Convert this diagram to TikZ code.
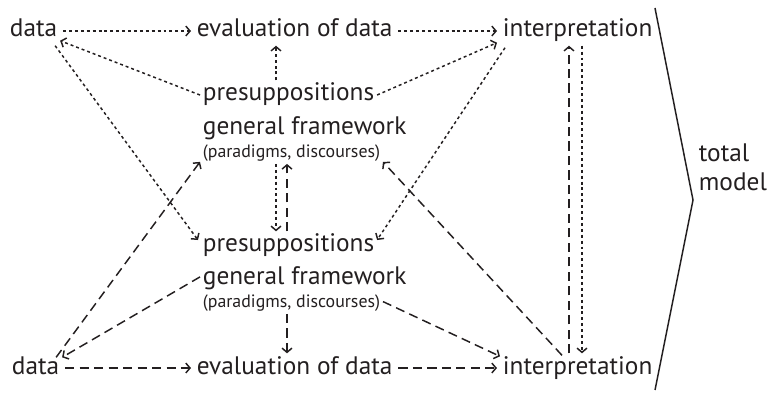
\documentclass[tikz,border=0pt]{standalone}
\usepackage{fontspec}
\setmainfont{PT Sans}
\usepackage{tikz}
\usetikzlibrary{positioning,arrows.meta,calc}

\definecolor{ink}{RGB}{35,31,32}

\tikzset{
    word/.style={inner ysep=2pt, inner xsep=4pt, anchor=base west, text=ink,
        font=\fontsize{18}{21}\selectfont, text height=12.5pt, text depth=4pt},
    frame/.style={word, inner ysep=0pt, text depth=1pt},
    small/.style={word, inner ysep=0pt, font=\fontsize{12.7}{15}\selectfont,
        text height=6pt, text depth=4pt},
    dotarr/.style={->, draw=ink, line width=1.05pt, dash pattern=on 2.1pt off 2.1pt},
    dasharr/.style={->, draw=ink, line width=1.05pt, dash pattern=on 6.5pt off 3.8pt},
    >={Straight Barb[length=3pt,width=7pt]}
}

\begin{document}
\begin{tikzpicture}[x=0.025cm, y=-0.025cm]
    \useasboundingbox (0,0) rectangle (772,394);

    % upper row and its framework
    \node[word] (dataT) at (4,37) {data};
    \node[word] (evalT) at (191,37) {evaluation of data};
    \node[word] (interpT) at (497,37) {interpretation};
    \node[word] (presA) at (197,101) {presuppositions};
    \node[frame] (frameA) at (197,135) {general framework};
    \node[small] (paraA) at (197,158) {(paradigms, discourses)};

    % lower row and its framework
    \node[word] (presB) at (197,252) {presuppositions};
    \node[frame] (frameB) at (197,285) {general framework};
    \node[small] (paraB) at (197,308) {(paradigms, discourses)};
    \node[word] (dataB) at (6,374) {data};
    \node[word] (evalB) at (191,374) {evaluation of data};
    \node[word] (interpB) at (497,374) {interpretation};

    % columns for the vertical links
    \coordinate (colL) at (276,0);
    \coordinate (colR) at (287,0);
    \coordinate (colUp) at (569,0);
    \coordinate (colDown) at (582,0);

    % dotted links
    \draw[dotarr] (dataT) -- (evalT);
    \draw[dotarr] (evalT) -- (interpT);
    \draw[dotarr] ($(presA.west)+(3,0)$) -- ($(dataT.south east)+(-3,-5)$);
    \draw[dotarr] (presA.north -| colL) -- (evalT.south -| colL);
    \draw[dotarr] ($(presA.east)+(-3,0)$) -- ($(interpT.south west)+(0,-3)$);
    \draw[dotarr] ($(dataT.south east)+(-8,0)$) -- ($(presB.west)+(1,-6)$);
    \draw[dotarr] ($(interpT.south west)+(8,2)$) -- ($(presB.east)+(-3,-6)$);
    \draw[dotarr] (paraA.south -| colL) -- (presB.north -| colL);
    \draw[dotarr] (interpT.south -| colDown) -- (interpB.north -| colDown);

    % dashed links
    \draw[dasharr] (dataB) -- (evalB);
    \draw[dasharr] (evalB) -- (interpB);
    \draw[dasharr] ($(frameB.west)+(3,0)$) -- ($(dataB.north east)+(-3,4)$);
    \draw[dasharr] ($(dataB.north east)+(-9,4)$) -- ($(paraA.south west)+(3,-2)$);
    \draw[dasharr] (presB.north -| colR) -- (paraA.south -| colR);
    \draw[dasharr] (paraB.south -| colR) -- (evalB.north -| colR);
    \draw[dasharr] ($(paraB.east)+(-3,-5)$) -- ($(interpB.north west)+(3,3)$);
    \draw[dasharr] ($(interpB.north west)+(65,2)$) -- ($(paraA.south east)+(-3,-2)$);
    \draw[dasharr] (interpB.north -| colUp) -- (interpT.south -| colUp);

    % bracket around the whole model
    \draw[ink, line width=1.05pt] (655,8) -- (693,200) -- (655,390);
    \node[word, align=left, text height=, text depth=] (total) at (693,191) {total\\model};
\end{tikzpicture}
\end{document}
